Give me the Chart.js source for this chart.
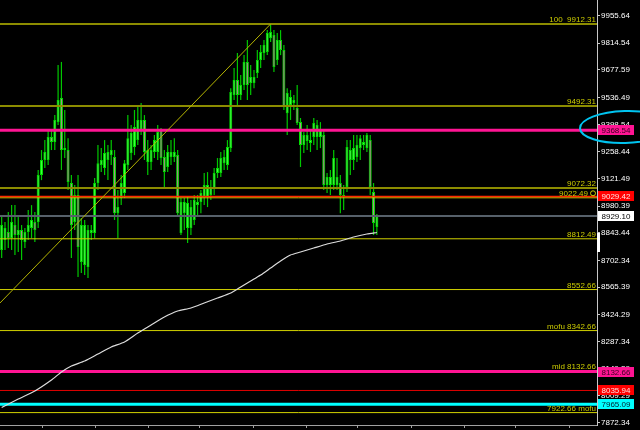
<!DOCTYPE html>
<html>
<head>
<meta charset="utf-8">
<title>Chart</title>
<script src="https://cdn.jsdelivr.net/npm/chart.js@4.4.1/dist/chart.umd.min.js"></script>
<style>
html,body{margin:0;padding:0;background:#000;overflow:hidden;}
#wrap{width:640px;height:430px;}
canvas{display:block;}
</style>
</head>
<body>
<div id="wrap"><canvas id="c" width="640" height="430"></canvas></div>
<script>
// ---- candle data (index = bar number) ----
const candleOpen = [
8755,8806,8847,8816,8883,8832,8857,8796,8847,8868,
8898,8898,9139,9216,9216,9334,9308,9410,9533,9267,
9267,9098,8898,9037,8694,8678,8668,8842,8842,9098,
9190,9175,9216,9241,9231,8944,9021,9047,9190,9252,
9282,9318,9369,9421,9206,9206,9257,9257,9369,9231,
9180,9231,9231,9241,8842,8944,8868,8868,8909,8985,
9001,9026,9026,9037,9072,9149,9149,9200,9190,9277,
9549,9625,9549,9600,9718,9610,9610,9661,9728,9764,
9769,9840,9856,9728,9830,9779,9456,9497,9508,9482,
9410,9293,9313,9303,9334,9334,9334,9344,9088,9088,
9088,9088,9098,9026,9078,9216,9216,9231,9277,9293,
9277,9318,9052,8873];
const candleHigh = [
8934,8898,8950,8985,8985,8934,8883,8868,8960,8985,
8950,9165,9267,9318,9369,9369,9446,9702,9718,9472,
9328,9139,9088,9139,8919,8909,8883,8883,9124,9293,
9277,9318,9293,9318,9267,9062,9139,9216,9446,9395,
9472,9497,9508,9446,9318,9293,9344,9395,9380,9267,
9293,9318,9328,9267,9021,9021,9026,9011,9037,9037,
9062,9149,9154,9113,9175,9226,9257,9267,9318,9584,
9687,9764,9651,9753,9830,9702,9677,9779,9805,9830,
9881,9912.31,9881,9866,9881,9805,9584,9574,9549,9600,
9431,9359,9395,9369,9431,9421,9410,9369,9149,9165,
9267,9226,9139,9088,9318,9318,9344,9344,9344,9344,
9354,9344,9098,8940];
const candleLow = [
8714,8755,8765,8755,8729,8745,8704,8765,8806,8816,
8796,8868,9113,9175,9190,9267,9267,9395,9165,9226,
9062,8714,8857,8617,8637,8627,8612,8806,8816,9062,
9154,9139,9113,9190,8909,8816,8985,9021,9165,9216,
9241,9293,9344,9216,9139,9165,9226,9216,9190,9078,
9154,9190,9206,8934,8832,8857,8791,8832,8883,8934,
8944,8985,8975,9011,9037,9124,9129,9165,9165,9257,
9523,9487,9523,9574,9523,9549,9584,9636,9687,9728,
9753,9820,9666,9702,9753,9472,9344,9421,9472,9395,
9180,9252,9267,9257,9293,9267,9277,9062,9047,9037,
9062,9062,8944,8960,9052,9139,9165,9206,9216,9267,
9257,9037,8832,8832];
const candleClose = [
8883,8868,8816,8898,8832,8857,8806,8847,8883,8909,
8857,9139,9216,9257,9334,9308,9421,9523,9267,9277,
9103,8883,9037,8770,8883,8883,8857,8857,9098,9200,
9216,9252,9257,9267,8944,8975,9098,9200,9328,9354,
9385,9421,9421,9257,9267,9267,9318,9359,9226,9154,
9257,9257,9257,8944,9001,9001,8996,8975,9011,9001,
9047,9088,9088,9078,9149,9175,9226,9231,9282,9564,
9625,9549,9600,9718,9600,9641,9641,9728,9769,9805,
9866,9871,9692,9830,9779,9487,9559,9538,9523,9405,
9293,9344,9344,9318,9405,9395,9369,9088,9129,9129,
9226,9129,9037,9037,9282,9267,9277,9293,9328,9308,
9344,9078,8893,8929.10];

// ---- moving average (bar index, value) ----
const maIndex = [0,5,10,15,18,21,25,29,33,37,41,45,49,53,57,61,65,69,72,75,78,81,84,87,90,94,98,102,106,110,113];
const maValue = [7948.8,7992.3,8033.3,8089.6,8130.6,8161.3,8186.9,8222.7,8258.6,8284.2,8330.2,8371.2,8412.2,8442.9,8458.2,8483.8,8509.4,8535.0,8565.8,8596.5,8627.2,8663.0,8698.9,8729.6,8744.8,8765.4,8785.9,8801.3,8821.8,8837.1,8844.8];

// ---- diagonal trend line (bar index, value) ----
const trendIndex = [-0.5, 81];
const trendValue = [8484, 9912.31];

// ---- horizontal levels ----
const levelValues = [9912.31, 9492.31, 9072.32, 9022.49, 8812.49, 8552.66, 8342.66, 7922.66];
const levelTexts  = ['100  9912.31', '9492.31', '9072.32', '9022.49', '8812.49', '8552.66', 'mofu 8342.66', '7922.66 mofu'];
const markerValues = [9368.54, 9029.42, 8929.10, 8132.66, 8035.94, 7965.09];
const markerTexts  = ['9368.54', '9029.42', '8929.10', '8132.66', '8035.94', '7965.09'];
const midText = 'mid 8132.66';

// ---- axes ----
const yTickValues = [9955.64, 9814.54, 9677.59, 9536.49, 9398.54, 9258.44, 9121.49, 8980.39, 8843.44, 8702.34, 8565.39, 8424.29, 8287.34, 8149.39, 8009.29, 7872.34];
const xTickPositions = [12.45, 28.4, 44.1, 59.7, 75.7, 91.7, 107.3, 123.3, 139.3, 154.9, 170.9];
const yAxisMin = 7859.2, yAxisMax = 10035.2;
const xAxisMin = -0.5, xAxisMax = 179.3;

// ---- styles ----
const bullFill = '#40ff40', bearFill = '#b08c90', bodyEdge = '#00e000', wickColor = '#00c800';
const levelColors = ['#8c8c00', '#8c8c00', '#8c8c00', '#d2d200', '#d2d200', '#d2d200', '#d2d200', '#d2d200'];
const levelWidths = [2, 2, 2, 1, 1, 1, 1, 1];
const markerColors = ['#ff1493', '#ff2a00', '#56606a', '#ff1493', '#e00000', '#00ffff'];
const markerWidths = [3, 1.5, 2, 3, 1, 3];
const boxFill = ['#ff1493', '#ff0000', '#ffffff', '#ff1493', '#ff0000', '#00ffff'];
const boxText = ['#3a0020', '#ffe0e0', '#000000', '#3a0020', '#ffe0e0', '#002030'];
const FONT = "8px 'Liberation Sans', Arial, sans-serif";

const wickData = candleLow.map((l, i) => ({x: i, y: [l, candleHigh[i]]}));
const bodyData = candleOpen.map((o, i) => ({x: i, y: [o, candleClose[i]]}));
const bodyColors = candleOpen.map((o, i) => candleClose[i] >= o ? bullFill : bearFill);

function hLine(value, color, width, order) {
  return {type: 'line', data: [{x: xAxisMin, y: value}, {x: xAxisMax, y: value}],
    borderColor: color, borderWidth: width, pointRadius: 0, pointHoverRadius: 0,
    fill: false, tension: 0, order: order};
}

const datasets = [
  {type: 'bar', data: wickData, backgroundColor: wickColor, borderWidth: 0, barThickness: 1.2,
   grouped: false, order: 20, inflateAmount: 0},
  {type: 'bar', data: bodyData, backgroundColor: bodyColors, borderColor: bodyEdge, borderWidth: 1,
   borderSkipped: false, barThickness: 3, minBarLength: 1, grouped: false, order: 19, inflateAmount: 0}
];
levelValues.forEach((v, i) => datasets.push(hLine(v, levelColors[i], levelWidths[i], 6)));
markerValues.forEach((v, i) => datasets.push(hLine(v, markerColors[i], markerWidths[i], 5)));
datasets.push({type: 'line', data: maIndex.map((x, i) => ({x: x, y: maValue[i]})),
  borderColor: '#dcdcdc', borderWidth: 1.2, pointRadius: 0, fill: false, tension: 0.2, order: 3});
datasets.push({type: 'line', data: trendIndex.map((x, i) => ({x: x, y: trendValue[i]})),
  borderColor: '#b4b400', borderWidth: 1, pointRadius: 0, fill: false, tension: 0, order: 2});

const overlay = {
  id: 'overlay',
  beforeDraw(chart) {
    const ctx = chart.ctx;
    ctx.save(); ctx.fillStyle = '#000'; ctx.fillRect(0, 0, chart.width, chart.height); ctx.restore();
  },
  afterDraw(chart) {
    const ctx = chart.ctx, ys = chart.scales.y, area = chart.chartArea;
    const right = area.right - 1;
    ctx.save();
    ctx.font = FONT;
    ctx.textBaseline = 'alphabetic';
    ctx.textAlign = 'right';
    ctx.fillStyle = '#cccc00';
    levelValues.forEach((v, i) => {
      const py = ys.getPixelForValue(v);
      const shift = levelTexts[i] === '9022.49' ? 8 : 0;
      ctx.fillText(levelTexts[i], right - shift, py - 2);
      if (shift) {
        ctx.strokeStyle = '#cccc00'; ctx.lineWidth = 1;
        ctx.beginPath(); ctx.arc(right - 3, py - 4.5, 2.5, 0, Math.PI * 2); ctx.stroke();
      }
    });
    ctx.fillText(midText, right, ys.getPixelForValue(markerValues[3]) - 3);

    // axis price boxes
    ctx.textAlign = 'left';
    markerValues.forEach((v, i) => {
      const py = ys.getPixelForValue(v);
      ctx.fillStyle = boxFill[i];
      ctx.fillRect(area.right + 1, Math.round(py) - 5, 36, 10);
      ctx.fillStyle = boxText[i];
      ctx.fillText(markerTexts[i], area.right + 4.5, Math.round(py) + 3);
    });

    // small scroll marker on the axis
    ctx.fillStyle = '#ffffff';
    ctx.fillRect(area.right, 233, 3, 19);

    // hand-drawn cyan ellipse around the 9368.54 box
    ctx.strokeStyle = '#00c4f0';
    ctx.lineWidth = 2;
    ctx.beginPath();
    ctx.ellipse(625, 127, 45, 16, -0.03, 0, Math.PI * 2);
    ctx.stroke();
    ctx.restore();
  }
};

new Chart(document.getElementById('c'), {
  type: 'bar',
  data: {datasets: datasets},
  options: {
    responsive: false,
    animation: false,
    devicePixelRatio: 1,
    events: [],
    layout: {padding: {left: 0, right: 0, top: 0, bottom: 2}},
    plugins: {legend: {display: false}, tooltip: {enabled: false}, title: {display: false}},
    scales: {
      x: {
        type: 'linear', position: 'bottom', min: xAxisMin, max: xAxisMax, offset: false,
        grid: {display: true, drawOnChartArea: false, drawTicks: true, tickLength: 3, color: '#a0a0a0', offset: false},
        border: {display: true, color: '#a0a0a0'},
        ticks: {display: false},
        afterBuildTicks: (s) => { s.ticks = xTickPositions.map(v => ({value: v})); }
      },
      y: {
        type: 'linear', position: 'right', min: yAxisMin, max: yAxisMax,
        grid: {display: true, drawOnChartArea: false, drawTicks: true, tickLength: 3, color: '#c8c8c8'},
        border: {display: true, color: '#c8c8c8'},
        ticks: {color: '#ffffff', font: {family: "'Liberation Sans', Arial, sans-serif", size: 8},
                padding: 1, autoSkip: false, callback: (v) => Number(v).toFixed(2)},
        afterBuildTicks: (s) => { s.ticks = yTickValues.map(v => ({value: v})); },
        afterFit: (s) => { s.width = 43; s.paddingTop = 0; s.paddingBottom = 0; }
      }
    }
  },
  plugins: [overlay]
});
</script>
</body>
</html>
